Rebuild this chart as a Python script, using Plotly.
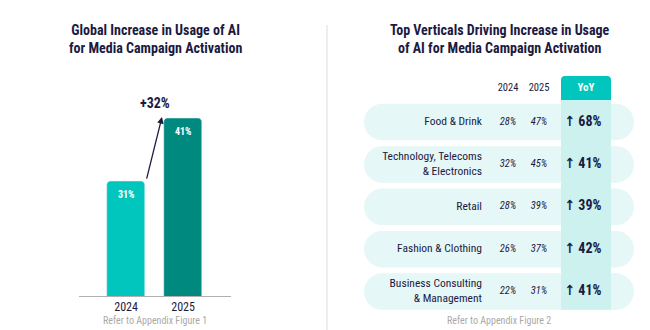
import plotly.graph_objects as go

# ---------------- data ----------------
years = ["2024", "2025"]
global_usage = [31, 41]

verticals = [
    "Food & Drink",
    "Technology, Telecoms<br>& Electronics",
    "Retail",
    "Fashion & Clothing",
    "Business Consulting<br>& Management",
]
usage_2024 = [28, 32, 28, 26, 22]
usage_2025 = [47, 45, 39, 37, 31]

# ---------------- style ----------------
W, H = 650, 330
NAVY = "#1c1a3f"
TEAL_LIGHT = "#00c6be"
TEAL_DARK = "#008a7f"
PILL = "#e6f7f7"
YOY_COL = "#ccf1ef"
GRAY = "#a9a9a9"
FONT = "Roboto Condensed, Liberation Sans Narrow, DejaVu Sans Condensed, Roboto, sans-serif"

# column positions for the table panel (x2 axis is in pixel-like units)
COL_LABEL, COL_2024, COL_2025, COL_YOY, COL_YOY_HDR = 482, 508, 539, 583, 586
PILL_X0, PILL_X1, PILL_R = 364, 634, 18
YOY_X0, YOY_X1 = 561, 611
PILL_HALF = 0.43
HEADER_Y = -0.8

fig = go.Figure()

# ---------------- left: bar chart ----------------
fig.add_trace(go.Bar(
    x=years, y=global_usage, width=0.67,
    marker=dict(color=[TEAL_LIGHT, TEAL_DARK], cornerradius=4),
    xaxis="x", yaxis="y", hoverinfo="skip", showlegend=False,
))
for i, v in enumerate(global_usage):
    fig.add_annotation(x=i, y=v, xref="x", yref="y", yshift=-13, showarrow=False,
                       text=f"<b>{v}%</b>", font=dict(family=FONT, size=10, color="white"))

growth = round((global_usage[1] - global_usage[0]) / global_usage[0] * 100)
fig.add_annotation(x=0.63, y=global_usage[1] + 0.15, ax=0.355, ay=global_usage[0] + 0.15,
                   xref="x", yref="y", axref="x", ayref="y", text="", showarrow=True,
                   arrowhead=2, arrowsize=1, arrowwidth=1.3, arrowcolor=NAVY)
fig.add_annotation(x=0.5, y=global_usage[1], xref="x", yref="y", yshift=15, showarrow=False,
                   text=f"<b>+{growth}%</b>", font=dict(family=FONT, size=14, color=NAVY))

# ---------------- right: table ----------------
rows = list(range(len(verticals)))
shapes = []
for r in rows:
    shapes.append(dict(type="rect", xref="x2", yref="y2", x0=PILL_X0 + PILL_R, x1=PILL_X1 - PILL_R,
                       y0=r - PILL_HALF, y1=r + PILL_HALF, fillcolor=PILL, line_width=0, layer="below"))
    for cx in (PILL_X0 + PILL_R, PILL_X1 - PILL_R):
        shapes.append(dict(type="circle", xref="x2", yref="y2", x0=cx - PILL_R, x1=cx + PILL_R,
                           y0=r - PILL_HALF, y1=r + PILL_HALF, fillcolor=PILL, line_width=0, layer="below"))
shapes.append(dict(type="rect", xref="x2", yref="y2", x0=YOY_X0, x1=YOY_X1,
                   y0=-0.52, y1=rows[-1] + PILL_HALF, fillcolor=YOY_COL, line_width=0, layer="below"))
ry = 0.094
shapes.append(dict(type="path", xref="x2", yref="y2", fillcolor=TEAL_LIGHT, line_width=0, layer="below",
                   path=(f"M {YOY_X0},-0.52 L {YOY_X0},{-1.085 + ry} Q {YOY_X0},-1.085 {YOY_X0 + 4},-1.085 "
                         f"L {YOY_X1 - 4},-1.085 Q {YOY_X1},-1.085 {YOY_X1},{-1.085 + ry} L {YOY_X1},-0.52 Z")))
# divider
shapes.append(dict(type="line", xref="paper", yref="paper", x0=327 / W, x1=327 / W, y0=0, y1=1 - 25 / H,
                   line=dict(color="#dcdcdc", width=1)))

def text_trace(x, y, text, pos, size, color=NAVY, bold=False, italic=False):
    fig.add_trace(go.Scatter(
        x=x, y=y, text=text, mode="text", textposition=pos,
        textfont=dict(family=FONT, size=size, color=color,
                      weight="bold" if bold else "normal", style="italic" if italic else "normal"),
        xaxis="x2", yaxis="y2", hoverinfo="skip", showlegend=False,
    ))

text_trace([COL_LABEL] * len(rows), rows, verticals, "middle left", 11.5)
text_trace([COL_2024] * len(rows), rows, [f"{v}%" for v in usage_2024], "middle center", 10.5, italic=True)
text_trace([COL_2025] * len(rows), rows, [f"{v}%" for v in usage_2025], "middle center", 10.5, italic=True)
yoy = [round((b - a) / a * 100) for a, b in zip(usage_2024, usage_2025)]
text_trace([COL_YOY] * len(rows), rows, [f"↑ {v}%" for v in yoy], "middle center", 14, bold=True)
text_trace([COL_2024, COL_2025], [HEADER_Y] * 2, years, "middle center", 10.5)
text_trace([COL_YOY_HDR], [HEADER_Y], ["YoY"], "middle center", 11, color="white", bold=True)

# ---------------- titles & notes ----------------
def paper_text(xp, yp, text, size, color, bold=True):
    fig.add_annotation(x=xp / W, y=1 - yp / H, xref="paper", yref="paper", showarrow=False,
                       text=f"<b>{text}</b>" if bold else text, align="center",
                       xanchor="center", yanchor="middle",
                       font=dict(family=FONT, size=size, color=color))

paper_text(155.5, 38.5, "Global Increase in Usage of AI<br>for Media Campaign Activation", 14, NAVY)
paper_text(499.5, 38.5, "Top Verticals Driving Increase in Usage<br>of AI for Media Campaign Activation", 14, NAVY)
paper_text(155, 320, "Refer to Appendix Figure 1", 10, GRAY, bold=False)
paper_text(499, 320, "Refer to Appendix Figure 2", 10, GRAY, bold=False)

fig.update_layout(
    width=W, height=H, margin=dict(l=0, r=0, t=0, b=0),
    paper_bgcolor="white", plot_bgcolor="rgba(0,0,0,0)",
    shapes=shapes, bargap=0,
    xaxis=dict(type="category", domain=[79 / W, 231 / W], range=[-0.825, 1.84], showgrid=False,
               zeroline=False, showline=True, linecolor="#b0b0b0", linewidth=1, ticks="",
               tickfont=dict(family=FONT, size=12, color=NAVY), fixedrange=True),
    yaxis=dict(domain=[1 - 296 / H, 1 - 61.3 / H], range=[12.75, 50], visible=False, fixedrange=True),
    xaxis2=dict(domain=[0.5, 1.0], range=[325, 650], visible=False, fixedrange=True),
    yaxis2=dict(domain=[1 - 312.8 / H, 1 - 54.2 / H], range=[4.5, -1.6], visible=False, fixedrange=True),
)

fig.write_html("out.html")
